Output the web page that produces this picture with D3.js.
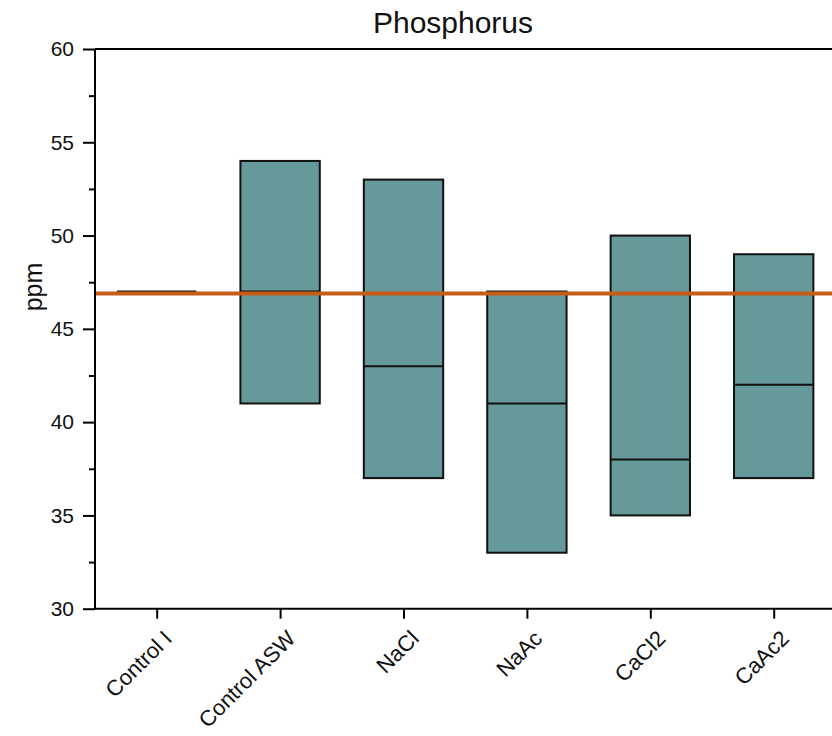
<!DOCTYPE html>
<html>
<head>
<meta charset="utf-8">
<script src="https://cdn.jsdelivr.net/npm/d3@7"></script>
<style>
  html, body { margin: 0; padding: 0; background: #fff; }
  svg { display: block; font-family: "Liberation Sans", Arial, sans-serif; }
</style>
</head>
<body>
<svg id="chart" width="832" height="736"></svg>
<script>
const categories = ["Control I", "Control ASW", "NaCl", "NaAc", "CaCl2", "CaAc2"];
const lower  = [47, 41, 37, 33, 35, 37];
const median = [47, 47, 43, 41, 38, 42];
const upper  = [47, 54, 53, 47, 50, 49];
const referenceValue = 46.9;
const yTicks = [30, 35, 40, 45, 50, 55, 60];
const yMinorTicks = [32.5, 37.5, 42.5, 47.5, 52.5, 57.5];
const title = "Phosphorus";
const yLabel = "ppm";

const svg = d3.select("#chart");
const mLeft = 95, mRight = 835.4, mTop = 49, mBottom = 608.7;

const x = d3.scalePoint().domain(categories).range([mLeft, mRight]).padding(0.5);
const y = d3.scaleLinear().domain([30, 60]).range([mBottom, mTop]);
const boxW = x.step() * 0.643;

// boxes
const g = svg.append("g");
categories.forEach((c, i) => {
  const cx = x(c);
  const h = y(lower[i]) - y(upper[i]);
  if (h > 0) {
    g.append("rect")
      .attr("x", cx - boxW / 2).attr("y", y(upper[i]))
      .attr("width", boxW).attr("height", h)
      .attr("fill", "#669999").attr("stroke", "#111").attr("stroke-width", 2);
  }
  g.append("line")
    .attr("x1", cx - boxW / 2).attr("x2", cx + boxW / 2)
    .attr("y1", y(median[i])).attr("y2", y(median[i]))
    .attr("stroke", "#111").attr("stroke-width", 2);
});

// reference line
svg.append("line")
  .attr("x1", mLeft).attr("x2", 832)
  .attr("y1", y(referenceValue)).attr("y2", y(referenceValue))
  .attr("stroke", "#c65d17").attr("stroke-width", 4);

// top frame
svg.append("line")
  .attr("x1", mLeft).attr("x2", 832).attr("y1", mTop).attr("y2", mTop)
  .attr("stroke", "#000").attr("stroke-width", 2);

// y axis
const yAxis = svg.append("g").attr("transform", `translate(${mLeft},0)`)
  .call(d3.axisLeft(y).tickValues(yTicks).tickSize(12).tickPadding(9).tickFormat(d3.format("d")));
yAxis.select(".domain").attr("stroke-width", 2).attr("d", `M0,${mTop}V${mBottom}`);
yAxis.selectAll(".tick line").attr("stroke-width", 2);
yAxis.selectAll(".tick text").attr("font-size", 21).attr("fill", "#111")
  .attr("font-family", "'Liberation Sans', Arial, sans-serif");
const yMinor = svg.append("g").attr("transform", `translate(${mLeft},0)`)
  .call(d3.axisLeft(y).tickValues(yMinorTicks).tickSize(6).tickFormat(""));
yMinor.select(".domain").remove();
yMinor.selectAll(".tick line").attr("stroke-width", 2);

// x axis
const xAxis = svg.append("g").attr("transform", `translate(0,${mBottom})`)
  .call(d3.axisBottom(x).tickSize(10).tickSizeOuter(0));
xAxis.select(".domain").attr("stroke-width", 2).attr("d", `M${mLeft},0H832`);
xAxis.selectAll(".tick line").attr("stroke-width", 2);
xAxis.selectAll(".tick text")
  .attr("font-size", 22).attr("fill", "#111")
  .attr("font-family", "'Liberation Sans', Arial, sans-serif")
  .attr("text-anchor", "end")
  .attr("y", 0).attr("dy", "0.72em")
  .attr("transform", "translate(5,20) rotate(-45)");

// title
svg.append("text").attr("x", 453).attr("y", 33).attr("text-anchor", "middle")
  .attr("font-size", 30).attr("fill", "#111").text(title);

// y label
svg.append("text").attr("transform", "translate(42,287) rotate(-90)")
  .attr("text-anchor", "middle").attr("font-size", 25).attr("fill", "#111").text(yLabel);
</script>
</body>
</html>
